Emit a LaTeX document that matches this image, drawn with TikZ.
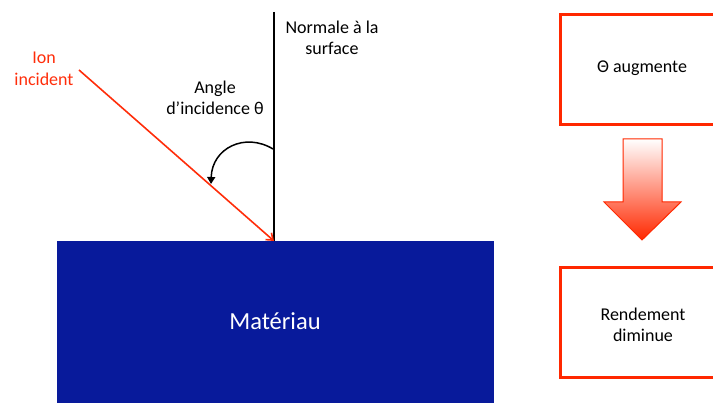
\documentclass[tikz,border=0pt]{standalone}
\usepackage{fontspec}
\setmainfont{Carlito}
\usetikzlibrary{arrows.meta}
\definecolor{matblue}{RGB}{8,26,155}
\definecolor{ionred}{RGB}{255,45,10}
\definecolor{boxred}{RGB}{255,40,0}
\tikzset{
  lbl/.style={font=\fontsize{18}{21.5}\selectfont, align=center, inner sep=0pt},
  redbox/.style={draw=boxred, line width=3pt, fill=white},
  boxshadow/.style={fill=black!28},
}
\begin{document}
\begin{tikzpicture}[x=1pt,y=-1pt]
\useasboundingbox (0,0) rectangle (713,403);
\clip (0,0) rectangle (713,403);
% material
\fill[matblue] (57,241) rectangle (494,410);
\node[lbl, font=\fontsize{24.5}{28}\selectfont, text=white] (mat) at (275,321) {Matériau};
% normal
\coordinate (ntop) at (274,12);
\coordinate (nbot) at (274,241);
\draw[line width=1.8pt] (ntop) -- (nbot);
\node[lbl] (normal) at (332,38) {Normale à la\\surface};
% ion
\coordinate (ionstart) at (79,70);
\draw[ionred, line width=1.6pt, -{Straight Barb[length=6pt,width=9pt]}] (ionstart) -- (nbot);
\node[lbl, text=ionred] (ion) at (44,69) {Ion\\incident};
% angle
\node[lbl] (angle) at (215,98) {Angle\\d’incidence θ};
\coordinate (a1) at (273,149);
\coordinate (a2) at (211,184);
\draw[line width=1.5pt, -{Triangle[length=7pt,width=8pt]}] (a1) .. controls (245,132) and (212,148) .. (a2);
% right boxes
\fill[boxshadow] (560,16) rectangle (728,126);
\node[redbox, minimum width=166pt, minimum height=110pt, anchor=north west, inner sep=0pt] (b1) at (559,13) {};
\node[lbl] (t1) at (642,68) {Θ augmente};
\fill[boxshadow] (560,269) rectangle (728,379);
\node[redbox, minimum width=166pt, minimum height=110pt, anchor=north west, inner sep=0pt] (b2) at (559,266) {};
\node[lbl] (t2) at (643,325) {Rendement\\diminue};
% down arrow
\path[draw=boxred, line width=1pt, top color=white, bottom color=boxred]
  (623,139) -- (662,139) -- (662,202) -- (681,202) -- (642,240) -- (604,202) -- (623,202) -- cycle;
\end{tikzpicture}
\end{document}
